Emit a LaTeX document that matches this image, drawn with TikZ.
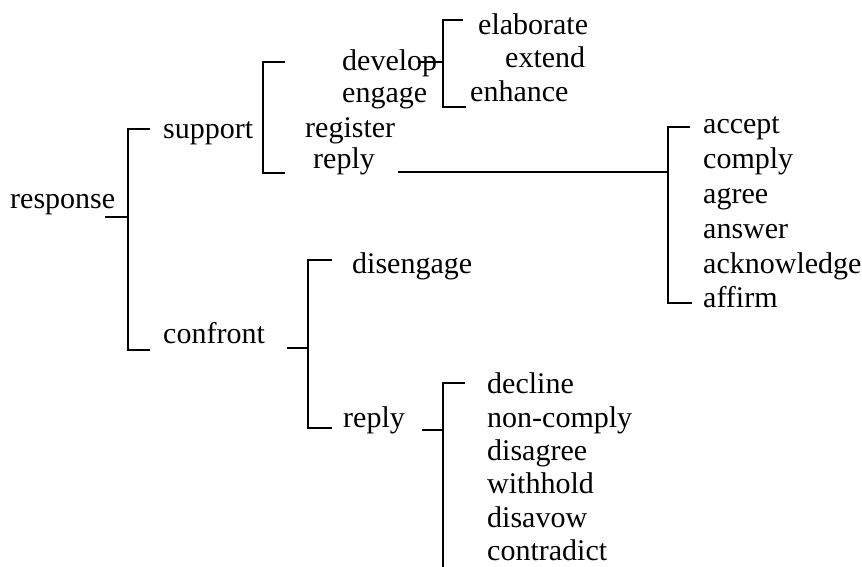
\documentclass[tikz,border=0pt]{standalone}
\usepackage{fontspec}
\setmainfont{Liberation Serif}
\begin{document}
\begin{tikzpicture}[x=1pt,y=-1pt,
  net/.style={line width=1.6pt, black},
  lbl/.style={anchor=base west, inner sep=0pt, font=\fontsize{30}{36}\selectfont}]
\clip (0,0) rectangle (862,567);
\fill[white] (0,0) rectangle (862,567);

% labels
\node[lbl] (response) at (10,208) {response};
\node[lbl] (support) at (163,139) {support};
\node[lbl] (confront) at (163,343) {confront};

\node[lbl] (develop) at (342,71) {develop};
\node[lbl] (engage) at (342,103) {engage};
\node[lbl] (register) at (305,138) {register};
\node[lbl] (replyS) at (313,168) {reply};

\node[lbl] (elaborate) at (478,35) {elaborate};
\node[lbl] (extend) at (505,68) {extend};
\node[lbl] (enhance) at (470,102) {enhance};

\node[lbl] (accept) at (703,134) {accept};
\node[lbl] (comply) at (703,168) {comply};
\node[lbl] (agree) at (703,203) {agree};
\node[lbl] (answer) at (703,238) {answer};
\node[lbl] (acknowledge) at (703,273) {acknowledge};
\node[lbl] (affirm) at (703,307) {affirm};

\node[lbl] (disengage) at (352,273) {disengage};
\node[lbl] (replyC) at (343,427) {reply};

\node[lbl] (decline) at (487,393) {decline};
\node[lbl] (noncomply) at (487,427) {non-comply};
\node[lbl] (disagree) at (487,460) {disagree};
\node[lbl] (withhold) at (487,493) {withhold};
\node[lbl] (disavow) at (487,527) {disavow};
\node[lbl] (contradict) at (487,560) {contradict};

% bracket points
\coordinate (rIn) at (105,217);   \coordinate (rMid) at (128,217);
\coordinate (rTop) at (128,129);  \coordinate (rBot) at (128,350);
\coordinate (rTopE) at (150,129); \coordinate (rBotE) at (150,350);

\coordinate (sTop) at (263,62);   \coordinate (sBot) at (263,173);
\coordinate (sTopE) at (285,62);  \coordinate (sBotE) at (285,173);

\coordinate (dIn) at (418,62);    \coordinate (dMid) at (443,62);
\coordinate (dTop) at (443,20);   \coordinate (dBot) at (443,107);
\coordinate (dTopE) at (463,20);  \coordinate (dBotE) at (466,107);

\coordinate (pIn) at (398,172);   \coordinate (pMid) at (668,172);
\coordinate (pTop) at (668,127);  \coordinate (pBot) at (668,303);
\coordinate (pTopE) at (690,127); \coordinate (pBotE) at (692,303);

\coordinate (cIn) at (287,348);   \coordinate (cMid) at (308,348);
\coordinate (cTop) at (308,260);  \coordinate (cBot) at (308,428);
\coordinate (cTopE) at (332,260); \coordinate (cBotE) at (332,428);

\coordinate (nIn) at (422,430);   \coordinate (nMid) at (443,430);
\coordinate (nTop) at (443,383);  \coordinate (nBot) at (443,572);
\coordinate (nTopE) at (465,383); \coordinate (nBotE) at (462,572);

% response: support / confront
\draw[net] (rTopE) -- (rTop) -- (rBot) -- (rBotE);
\draw[net] (rIn) -- (rMid);
% support
\draw[net] (sTopE) -- (sTop) -- (sBot) -- (sBotE);
% develop
\draw[net] (dTopE) -- (dTop) -- (dBot) -- (dBotE);
\draw[net] (dIn) -- (dMid);
% reply (support)
\draw[net] (pTopE) -- (pTop) -- (pBot) -- (pBotE);
\draw[net] (pIn) -- (pMid);
% confront
\draw[net] (cTopE) -- (cTop) -- (cBot) -- (cBotE);
\draw[net] (cIn) -- (cMid);
% reply (confront)
\draw[net] (nTopE) -- (nTop) -- (nBot) -- (nBotE);
\draw[net] (nIn) -- (nMid);
\end{tikzpicture}
\end{document}
